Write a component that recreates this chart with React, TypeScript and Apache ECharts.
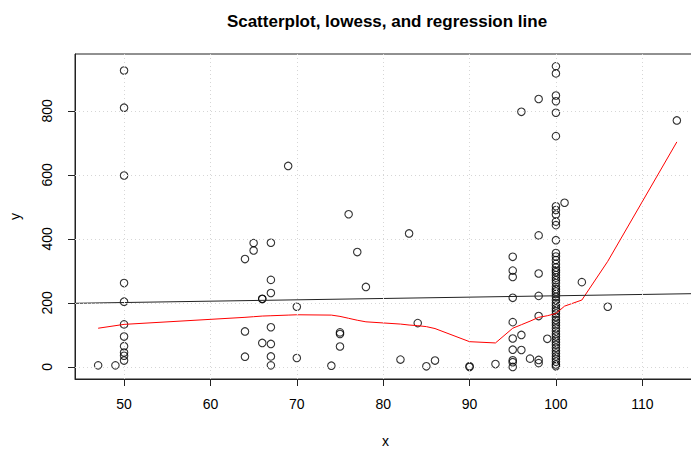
import React, { useEffect, useRef } from "react";
import * as echarts from "echarts";

const xTicks = [50, 60, 70, 80, 90, 100, 110];
const yTicks = [0, 200, 400, 600, 800];

const pointX = [
  47, 49,
  50, 50, 50, 50, 50, 50, 50, 50, 50, 50, 50,
  64, 64, 64, 65, 65, 66, 66, 66,
  67, 67, 67, 67, 67, 67, 67,
  69, 70, 70, 74, 75, 75, 75, 76, 77, 78,
  82, 83, 84, 85, 86, 90, 90, 93,
  95, 95, 95, 95, 95, 95, 95, 95, 95, 95,
  96, 96, 96, 97,
  98, 98, 98, 98, 98, 98, 98, 99,
  100, 100, 100, 100, 100, 100, 100, 100, 100, 100, 100, 100,
  100, 100, 100, 100, 100, 100, 100, 100, 100, 100, 100, 100, 100, 100,
  100, 100, 100, 100, 100, 100, 100, 100, 100, 100, 100, 100, 100, 100,
  100, 100, 100, 100, 100, 100, 100, 100, 100, 100, 100, 100, 100,
  101, 103, 106, 114,
];
const pointY = [
  5, 5,
  926, 810, 598, 262, 204, 133, 95, 65, 45, 35, 20,
  337, 111, 32, 387, 364, 213, 212, 75,
  388, 272, 231, 124, 72, 33, 5,
  628, 188, 28, 4, 108, 103, 64, 477, 359, 250,
  23, 417, 137, 2, 20, 2, 0, 9,
  344, 301, 281, 216, 140, 89, 54, 21, 15, 0,
  797, 100, 53, 26,
  837, 411, 292, 222, 159, 22, 12, 88,
  939, 917, 848, 830, 794, 721, 502, 490, 476, 454, 443, 396,
  356, 345, 334, 322, 311, 302, 296, 287, 279, 271, 262, 251, 243, 236,
  228, 219, 209, 200, 192, 183, 175, 166, 156, 147, 139, 130, 121, 112,
  103, 95, 86, 77, 69, 60, 51, 42, 33, 25, 16, 8, 2,
  513, 265, 188, 770,
];

const lowessX = [47, 50, 64, 65, 66, 67, 69, 70, 74, 75, 76, 77, 78, 82, 83, 84, 85, 86, 90, 93, 95, 96, 97, 98, 99, 100, 101, 103, 106, 114];
const lowessY = [121, 133, 155, 157, 159, 160, 162, 163, 162, 158, 152, 146, 141, 134, 131, 129, 126, 120, 79, 75, 121, 132, 143, 155, 160, 167, 190, 209, 330, 703];

const regression = { intercept: 180.3, slope: 0.42 };
const xRange = [44.32, 116.68];
const yRange = [-37.6, 977.6];

const FONT = "Liberation Sans, Arial, Helvetica, sans-serif";

export default function App() {
  const ref = useRef<HTMLDivElement>(null);
  useEffect(() => {
    if (!ref.current) return;
    const chart = echarts.init(ref.current, undefined, { renderer: "svg" });
    const scatterData = pointX.map((x, i) => [x, pointY[i]]);
    const lowessData = lowessX.map((x, i) => [x, lowessY[i]]);
    const regData = xRange.map((x) => [x, regression.intercept + regression.slope * x]);
    chart.setOption({
      animation: false,
      backgroundColor: "#fff",
      title: {
        text: "Scatterplot, lowess, and regression line",
        left: 382,
        top: 8,
        textAlign: "center",
        textStyle: { fontFamily: FONT, fontSize: 17, fontWeight: "bold", color: "#000" },
      },
      grid: {
        left: 75,
        top: 54,
        width: 625,
        height: 328,
        show: true,
        borderColor: "#222",
        borderWidth: 1,
        backgroundColor: "transparent",
      },
      xAxis: {
        type: "value",
        min: xRange[0],
        max: xRange[1],
        name: "x",
        nameLocation: "middle",
        nameGap: 55,
        nameTextStyle: { fontFamily: FONT, fontSize: 14, color: "#000", padding: [0, 4, 0, 0] },
        axisLine: { show: true, onZero: false, lineStyle: { color: "#222", width: 1 } },
        axisTick: { show: true, length: 7, customValues: xTicks, lineStyle: { color: "#222" } },
        axisLabel: { customValues: xTicks, margin: 18, fontFamily: FONT, fontSize: 14, color: "#000" },
        splitLine: { show: false },
      },
      yAxis: {
        type: "value",
        min: yRange[0],
        max: yRange[1],
        name: "y",
        nameLocation: "middle",
        nameGap: 53,
        nameRotate: 90,
        nameTextStyle: { fontFamily: FONT, fontSize: 14, color: "#000" },
        axisLine: { show: true, onZero: false, lineStyle: { color: "#222", width: 1 } },
        axisTick: { show: true, length: 7, customValues: yTicks, lineStyle: { color: "#222" } },
        axisLabel: { customValues: yTicks, rotate: 90, margin: 21, fontFamily: FONT, fontSize: 14, color: "#000" },
        splitLine: { show: false },
      },
      series: [
        {
          type: "scatter",
          data: scatterData,
          symbol: "circle",
          symbolSize: 7.5,
          itemStyle: { color: "rgba(0,0,0,0)", borderColor: "#000", borderWidth: 1.1 },
          markLine: {
            silent: true,
            symbol: ["none", "none"],
            label: { show: false },
            lineStyle: { color: "#d6d6d6", type: [1, 3], width: 1 },
            data: [
              ...xTicks.map((v) => ({ xAxis: v })),
              ...yTicks.map((v) => ({ yAxis: v })),
            ],
          },
          z: 3,
        },
        {
          type: "line",
          data: lowessData,
          showSymbol: false,
          lineStyle: { color: "#ff0000", width: 1 },
          z: 4,
        },
        {
          type: "line",
          data: regData,
          showSymbol: false,
          lineStyle: { color: "#222", width: 1 },
          z: 4,
        },
      ],
    });
    return () => chart.dispose();
  }, []);
  return (
    <div
      style={{ position: "absolute", left: 0, top: 0, width: 691, height: 453, overflow: "hidden" }}
    >
      <div ref={ref} style={{ width: 712, height: 453 }} />
    </div>
  );
}
